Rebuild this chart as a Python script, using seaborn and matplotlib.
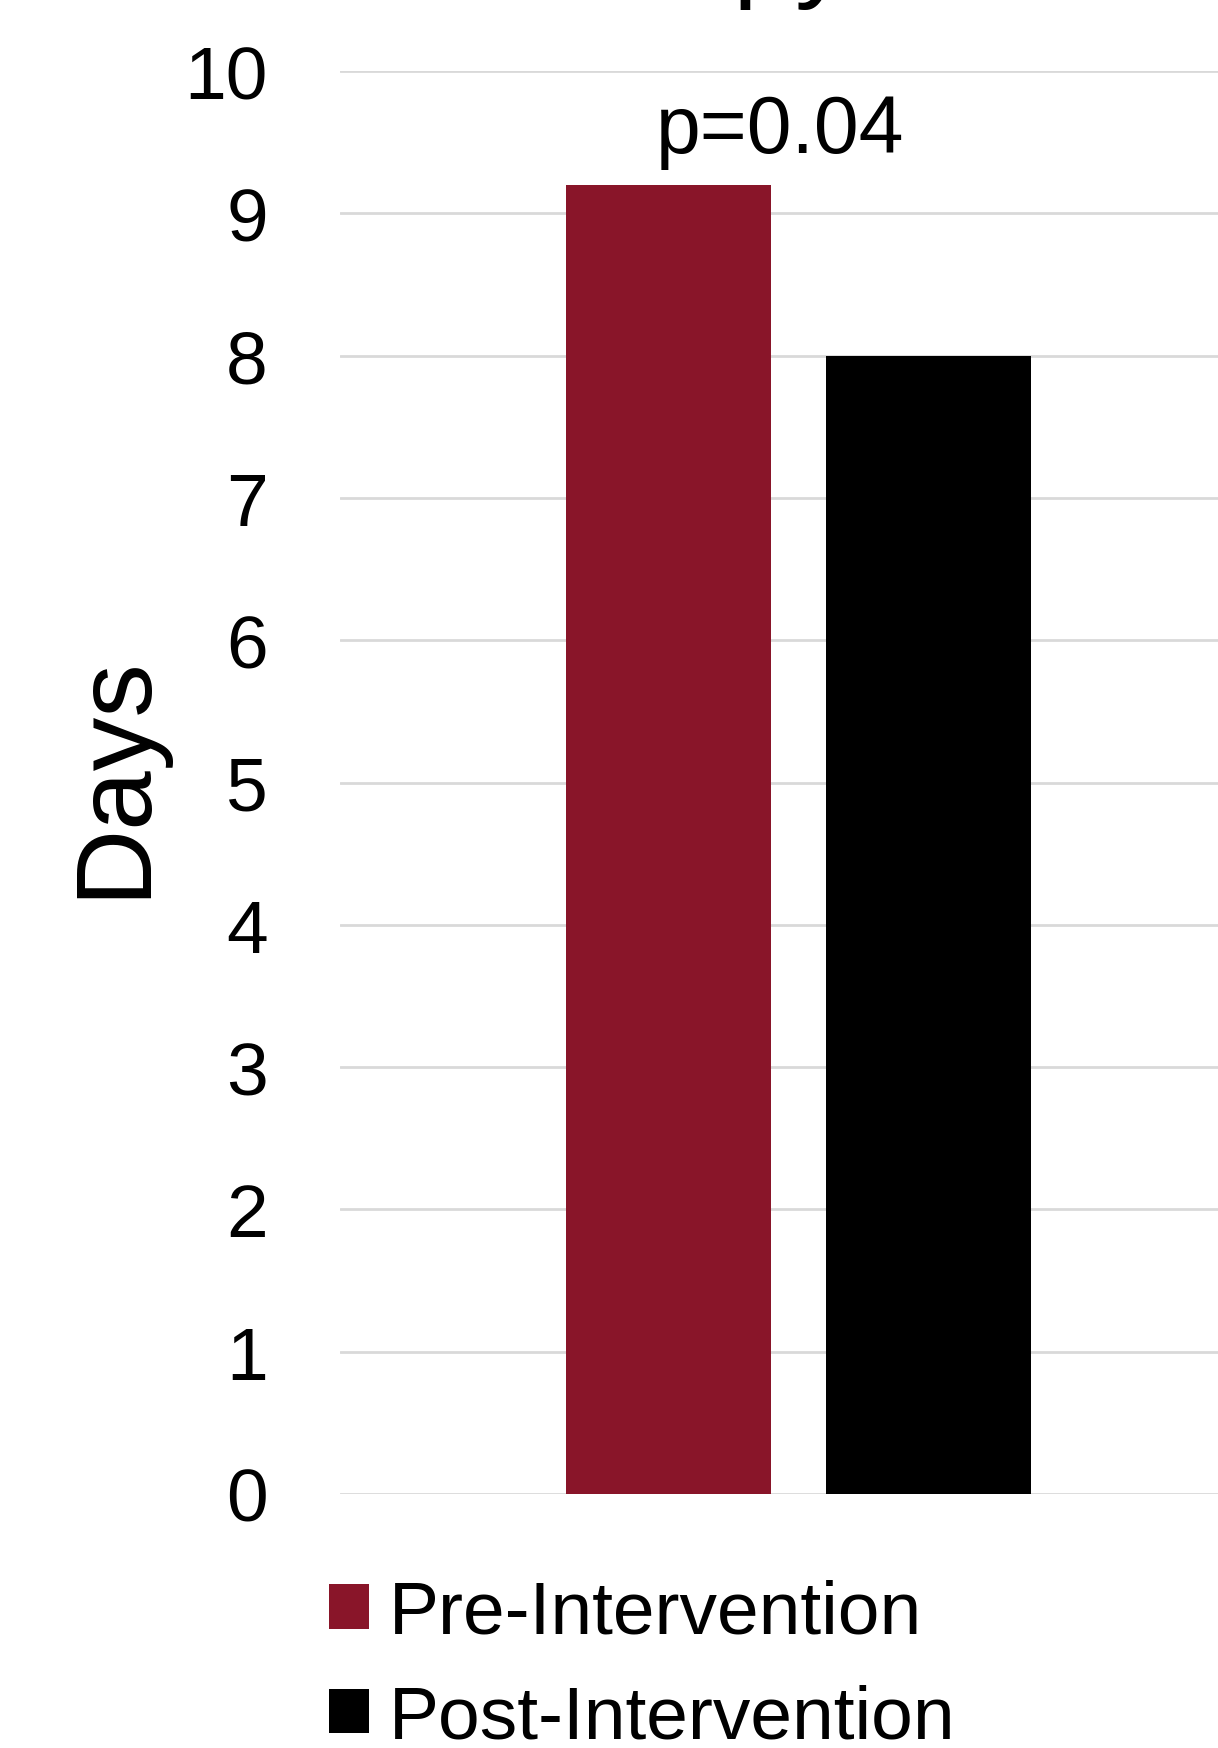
import matplotlib
matplotlib.use("Agg")
import matplotlib.pyplot as plt
import seaborn as sns
import pandas as pd

# Chart data
periods = ["Pre-Intervention", "Post-Intervention"]
days = [9.2, 8.0]
bar_colors = ["#891529", "#000000"]
y_ticks = list(range(0, 11))
p_label = "p=0.04"
title = "Duration of Therapy"
y_label = "Days"

sns.set_theme(style="white")
plt.rcParams["font.family"] = ["Liberation Sans", "DejaVu Sans"]
plt.rcParams["text.color"] = "black"

df = pd.DataFrame({"group": ["all"] * len(periods), "period": periods, "days": days})

W, H = 1218, 1749
fig = plt.figure(figsize=(W / 100, H / 100), dpi=100)
fig.patch.set_facecolor("white")
ax = fig.add_axes([340 / W, 1 - 1495 / H, 917 / W, (1495 - 72) / H])

sns.barplot(data=df, x="group", y="days", hue="period", hue_order=periods,
            palette=bar_colors, saturation=1, width=0.567, gap=0.21,
            linewidth=0, ax=ax, legend=True)

ax.set_ylim(0, 10)
ax.set_yticks(y_ticks)
ax.set_yticklabels([str(t) for t in y_ticks])
ax.tick_params(axis="y", labelsize=54, pad=52, length=0, colors="black")
ax.set_xticks([])
ax.set_xlabel("")
ax.set_ylabel(y_label, fontsize=77, color="black")
ax.yaxis.set_label_coords((165 - 340) / 917, 0.5055)

ax.yaxis.grid(True, color="#D9D9D9", linewidth=2)
ax.set_axisbelow(True)
for s in ax.spines.values():
    s.set_visible(False)

ax.text(-0.02, 9.43, p_label, ha="center", va="baseline", fontsize=58, color="black")

handles, labels = ax.get_legend_handles_labels()
ax.get_legend().remove()
leg = fig.legend(handles, labels, loc="upper left", bbox_to_anchor=(329 / W, 1 - 1580 / H),
                 frameon=False, fontsize=54, handlelength=0.53, handleheight=0.53,
                 handletextpad=0.27, labelspacing=0.47, borderpad=0, borderaxespad=0)
for t in leg.get_texts():
    t.set_color("black")

fig.text(850 / W, 1 + 13 / H, title, ha="right", va="baseline", fontsize=80, color="black")

fig.savefig("out.png", dpi=100, facecolor="white")
